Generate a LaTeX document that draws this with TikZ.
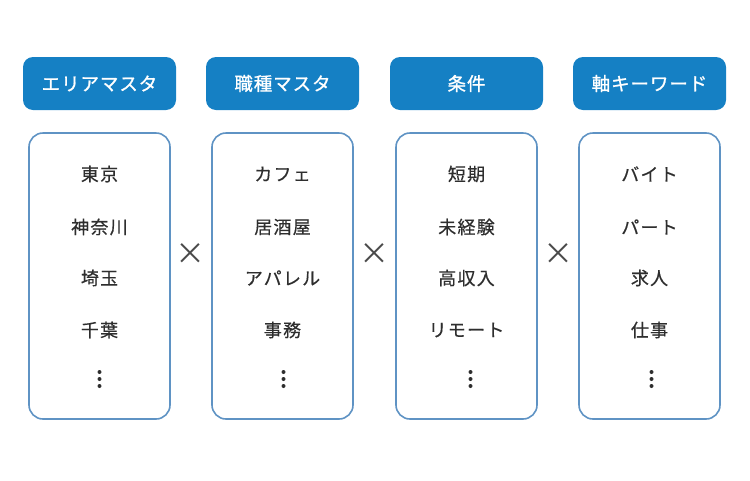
\documentclass[tikz,border=0pt]{standalone}
\usepackage{fontspec}
\setmainfont{Noto Sans CJK JP}
\newfontfamily\itemfont[LetterSpace=7, FakeBold=0.4]{Noto Sans CJK JP}
\newfontfamily\headfont[LetterSpace=5, FakeBold=1]{Noto Sans CJK JP}
\usetikzlibrary{positioning}
\definecolor{headblue}{HTML}{1580C4}
\definecolor{frameblue}{HTML}{5F93C4}
\definecolor{itemgray}{HTML}{2E2E2E}
\definecolor{timesgray}{HTML}{4A4A4A}
\tikzset{
	head/.style={rounded corners=10pt, fill=headblue, text=white, minimum width=153pt, minimum height=53pt, font=\headfont\fontsize{18.5}{20}\selectfont},
	listbox/.style={rounded corners=14pt, draw=frameblue, line width=1.6pt, fill=white, minimum width=141pt, minimum height=286pt},
	item/.style={text=itemgray, font=\itemfont\fontsize{18}{20}\selectfont},
	times/.style={text=timesgray, font=\fontsize{30}{30}\selectfont}
}
\newcommand{\moredots}[1]{%
	\fill[itemgray] (#1,372) circle (2pt) (#1,379) circle (2pt) (#1,386) circle (2pt);}

\begin{document}
\begin{tikzpicture}[x=1pt, y=-1pt]
			%%%%% START %%%%%
			
			\useasboundingbox (0, 0) rectangle (750, 480);
			
			\node[head] (areahead) at (99.5, 83.5) {エリアマスタ};
			\node[head] (jobhead) at (282.5, 83.5) {職種マスタ};
			\node[head] (condhead) at (466.5, 83.5) {条件};
			\node[head] (wordhead) at (649.5, 83.5) {軸キーワード};
			
			\node[listbox] (arealist) at (99.5, 276) {};
			\node[listbox] (joblist) at (282.5, 276) {};
			\node[listbox] (condlist) at (466.5, 276) {};
			\node[listbox] (wordlist) at (649.5, 276) {};
			
			\node[item] (area1) at (99.5, 174) {東京};
			\node[item] (area2) at (99.5, 227) {神奈川};
			\node[item] (area3) at (99.5, 278) {埼玉};
			\node[item] (area4) at (99.5, 330) {千葉};
			\moredots{99.5}
			
			\node[item] (job1) at (282.5, 174) {カフェ};
			\node[item] (job2) at (282.5, 227) {居酒屋};
			\node[item] (job3) at (282.5, 278) {アパレル};
			\node[item] (job4) at (282.5, 330) {事務};
			\moredots{283.5}
			
			\node[item] (cond1) at (466.5, 174) {短期};
			\node[item] (cond2) at (466.5, 227) {未経験};
			\node[item] (cond3) at (466.5, 278) {高収入};
			\node[item] (cond4) at (466.5, 330) {リモート};
			\moredots{470.5}
			
			\node[item] (word1) at (649.5, 174) {バイト};
			\node[item] (word2) at (649.5, 227) {パート};
			\node[item] (word3) at (649.5, 278) {求人};
			\node[item] (word4) at (649.5, 330) {仕事};
			\moredots{651.5}
			
			\node[times] (times1) at (190.5, 254) {×};
			\node[times] (times2) at (374.5, 254) {×};
			\node[times] (times3) at (558.5, 254) {×};
			
			%%%%% END %%%%%
		\end{tikzpicture}
\end{document}
